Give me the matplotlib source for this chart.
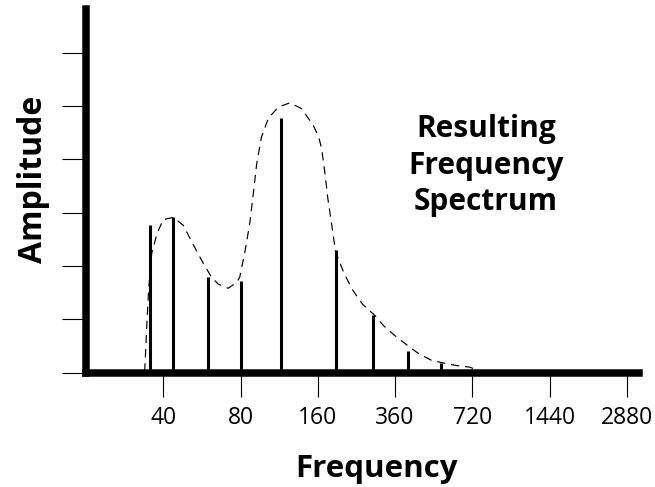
import matplotlib
matplotlib.use('Agg')
import matplotlib.pyplot as plt

# Tick labels (equally spaced octave-like positions)
freq_labels = ['40', '80', '160', '360', '720', '1440', '2880']

# Spectral lines: position on the tick index scale, amplitude
line_pos = [-0.17, 0.13, 0.58, 1.01, 1.52, 2.24, 2.72, 3.17, 3.60]
line_amp = [2.77, 2.91, 1.80, 1.71, 4.77, 2.29, 1.07, 0.41, 0.17]

# Dashed envelope, points
env_pos = [-0.24, -0.21, -0.19, -0.15, -0.08, 0.00, 0.13, 0.26, 0.38, 0.51,
           0.62, 0.71, 0.84, 0.95, 0.99, 1.06, 1.12, 1.17, 1.21, 1.27, 1.36,
           1.49, 1.64, 1.79, 1.94, 2.01, 2.05, 2.09, 2.13, 2.18, 2.23, 2.34,
           2.45, 2.58, 2.74, 2.85, 3.00, 3.15, 3.30, 3.47, 3.65, 3.80, 3.97,
           4.05]
env_amp = [0.02, 0.98, 1.54, 2.23, 2.61, 2.87, 2.91, 2.76, 2.42, 2.07,
           1.80, 1.66, 1.58, 1.69, 1.79, 2.29, 2.80, 3.41, 3.92, 4.41, 4.77,
           4.98, 5.06, 4.95, 4.64, 4.43, 4.20, 3.77, 3.27, 2.77, 2.27, 1.86,
           1.55, 1.28, 1.07, 0.88, 0.69, 0.52, 0.36, 0.23, 0.17, 0.13, 0.10,
           0.05]

W, H = 655, 487
fig = plt.figure(figsize=(W / 100, H / 100), dpi=100)
ax = fig.add_axes([86 / W, (H - 372.5) / H, (638.7 - 86) / W, (372.5 - 9) / H])

ax.vlines(line_pos, 0, line_amp, colors='black', linewidth=2.2)
ax.plot(env_pos, env_amp, color='black', linewidth=0.85, linestyle='--',
        dashes=(7, 5), clip_on=False)

ax.set_xlim(-1.0, 6.154)
ax.set_ylim(0, 6.82)

for s in ['top', 'right']:
    ax.spines[s].set_visible(False)
for s in ['left', 'bottom']:
    ax.spines[s].set_linewidth(5.4)
    ax.spines[s].set_capstyle('projecting')
    ax.spines[s].set_color('black')

ax.set_yticks(range(7))
ax.tick_params(axis='y', length=17, width=0.8, labelleft=False, color='black')
ax.set_xticks(range(len(freq_labels)))
ax.set_xticklabels(freq_labels, fontfamily='Open Sans', fontsize=16.5)
ax.tick_params(axis='x', length=17, width=0.8, pad=7, color='black')

bold = dict(fontfamily='Open Sans', fontweight='bold', color='black')
fig.text(376.7 / W, 1 - 476.7 / H, 'Frequency', ha='center', va='baseline',
         fontsize=22.5, **bold)
fig.text(33 / W, 1 - 179 / H, 'Amplitude', ha='center', va='center',
         rotation=90, fontsize=23, **bold)
for txt, yb in zip(['Resulting', 'Frequency', 'Spectrum'], [136.7, 174.3, 210]):
    fig.text(486 / W, 1 - yb / H, txt, ha='center', va='baseline',
             fontsize=21.5, **bold)

fig.savefig('out.png', dpi=100)
